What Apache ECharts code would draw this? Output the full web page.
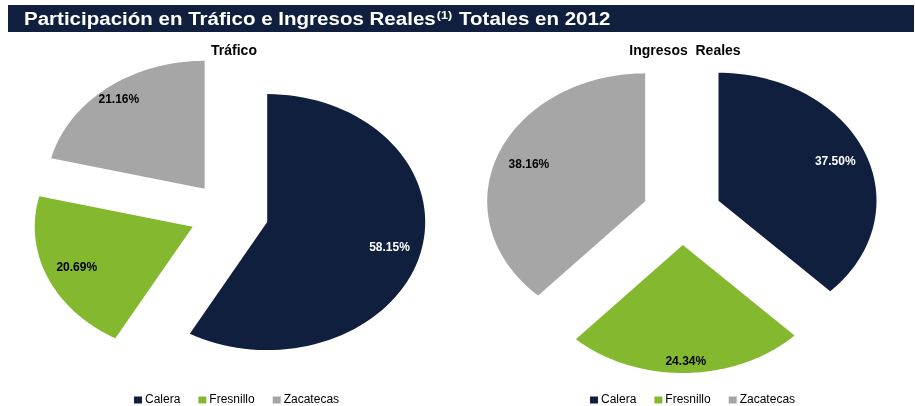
<!DOCTYPE html>
<html>
<head>
<meta charset="utf-8">
<script src="https://cdn.jsdelivr.net/npm/echarts@6/dist/echarts.min.js"></script>
<style>
html, body { margin: 0; padding: 0; background: #ffffff; }
#main { width: 915px; height: 406px; }
</style>
</head>
<body>
<div id="main"></div>
<script>
// datos
var regions = ['Calera', 'Fresnillo', 'Zacatecas'];
var pieTitles = ['Tráfico', 'Ingresos  Reales'];
var trafico = [58.15, 20.69, 21.16];
var ingresos = [37.50, 24.34, 38.16];
var colors = ['#0f1f3d', '#84b92f', '#a6a6a6'];
var labelColors = ['#ffffff', '#000000', '#000000'];

var pieValues = [trafico, ingresos];

// layout de cada pastel (elipse)
var pieLayout = [
	{ cx: 229, cy: 214, rx: 158, ry: 128 },
	{ cx: 682, cy: 213, rx: 158, ry: 128 }
];
var explode = 0.25;
// posicion radial de las etiquetas (fraccion del radio)
var labelR = [[0.80, 0.80, 0.88], [0.80, 0.91, 0.79]];

var FONT = '"Liberation Sans", Arial, sans-serif';

function ellPt(cx, cy, rx, ry, ang, f) {
	return [cx + f * rx * Math.sin(ang), cy - f * ry * Math.cos(ang)];
}

window.onload = () => {
	var myChart = echarts.init(document.getElementById('main'));

	var series = [];
	regions.forEach(function (name, ri) {
		series.push({
			name: name,
			type: 'custom',
			coordinateSystem: 'none',
			itemStyle: { color: colors[ri] },
			data: pieValues.map(function (vals, pi) { return [pi, vals[ri]]; }),
			renderItem: function (params, api) {
				var pi = api.value(0);
				var vals = pieValues[pi];
				var total = vals.reduce(function (a, b) { return a + b; }, 0);
				var before = 0;
				for (var k = 0; k < ri; k++) before += vals[k];
				var a0 = before / total * Math.PI * 2;
				var a1 = (before + vals[ri]) / total * Math.PI * 2;
				var am = (a0 + a1) / 2;
				var L = pieLayout[pi];
				var v = ellPt(L.cx, L.cy, L.rx, L.ry, am, explode);
				var pts = [v];
				var steps = 80;
				for (var s = 0; s <= steps; s++) {
					var a = a0 + (a1 - a0) * s / steps;
					pts.push(ellPt(v[0], v[1], L.rx, L.ry, a, 1));
				}
				var lp = ellPt(v[0], v[1], L.rx, L.ry, am, labelR[pi][ri]);
				return {
					type: 'group',
					children: [{
						type: 'polygon',
						shape: { points: pts },
						style: { fill: api.visual('color') }
					}, {
						type: 'text',
						x: lp[0],
						y: lp[1],
						style: {
							text: vals[ri].toFixed(2) + '%',
							fill: labelColors[ri],
							font: 'bold 12px ' + FONT,
							align: 'center',
							verticalAlign: 'middle'
						}
					}]
				};
			}
		});
	});

	var legendCommon = {
		data: regions,
		orient: 'horizontal',
		icon: 'rect',
		padding: 0,
		itemWidth: 8,
		itemHeight: 7,
		itemGap: 18,
		textStyle: { fontFamily: FONT, fontSize: 12, color: '#000', padding: [0, 0, 0, -2] },
		top: 394
	};

	var option = {
		animation: false,
		backgroundColor: '#ffffff',
		graphic: [{
			type: 'rect',
			shape: { x: 8, y: 5, width: 906, height: 27 },
			style: { fill: '#0f1f3d' },
			z: -1
		}, {
			// titulo (ligeramente ensanchado como en el original)
			type: 'text',
			x: 24,
			y: 20,
			scaleX: 1.14,
			style: {
				text: '{m|Participación en Tráfico e Ingresos Reales}{s|(1)}{m| Totales en 2012}',
				verticalAlign: 'middle',
				align: 'left',
				rich: {
					m: { fontFamily: FONT, fontWeight: 'bold', fontSize: 18, fill: '#ffffff', lineHeight: 24 },
					s: { fontFamily: FONT, fontWeight: 'bold', fontSize: 11, fill: '#ffffff', lineHeight: 24, padding: [0, 1, 9, 1] }
				}
			}
		}],
		title: [{
			text: pieTitles[0],
			left: 234,
			top: 44,
			textAlign: 'center',
			padding: 0,
			textStyle: { fontFamily: FONT, fontWeight: 'bold', fontSize: 14, color: '#000' }
		}, {
			text: pieTitles[1],
			left: 685,
			top: 44,
			textAlign: 'center',
			padding: 0,
			textStyle: { fontFamily: FONT, fontWeight: 'bold', fontSize: 14, color: '#000' }
		}],
		legend: [
			Object.assign({ left: 134 }, legendCommon),
			Object.assign({ left: 590 }, legendCommon)
		],
		series: series
	};

	myChart.setOption(option);
};
</script>
</body>
</html>
